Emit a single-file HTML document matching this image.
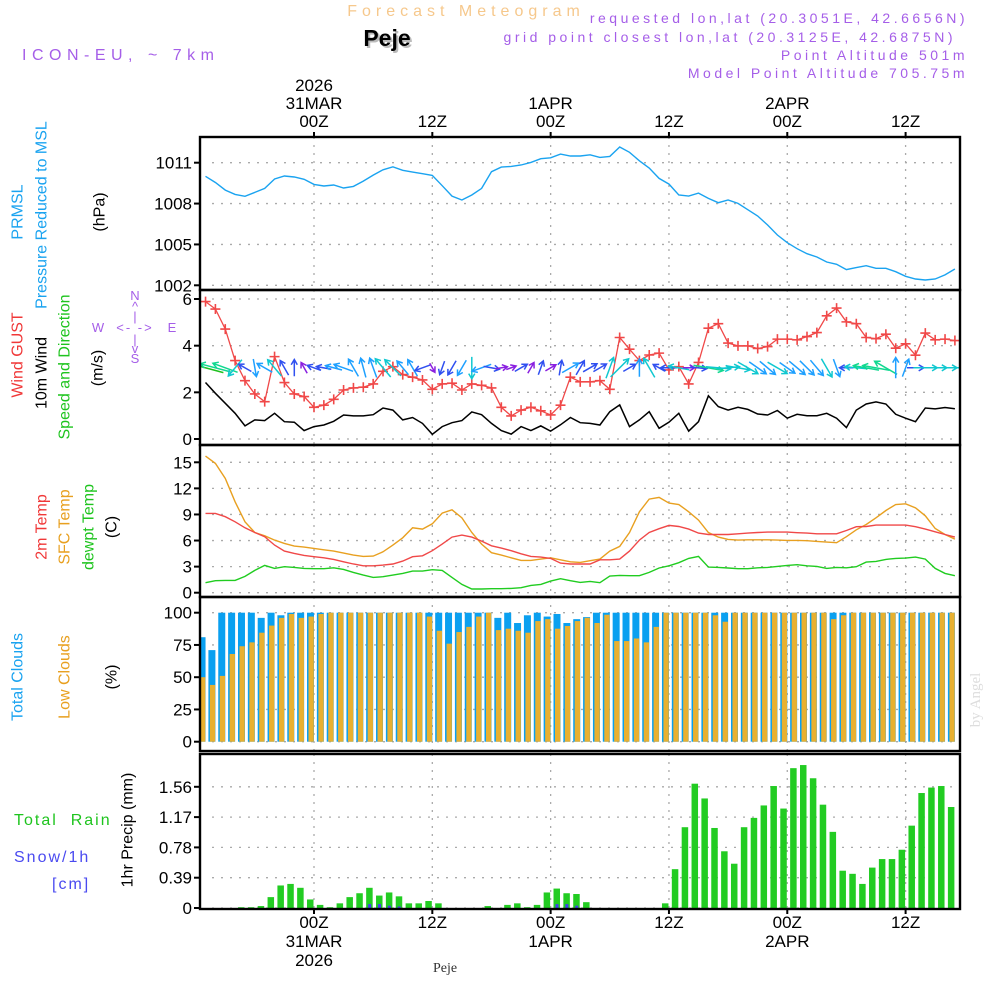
<!DOCTYPE html>
<html><head><meta charset="utf-8"><style>
html,body{margin:0;padding:0;background:#fff;}
svg{display:block;font-family:"Liberation Sans",sans-serif;}
</style></head><body>
<svg id="chart" width="1000" height="1000" viewBox="0 0 1000 1000" xmlns="http://www.w3.org/2000/svg">
<g id="header">
<text x="466" y="16" text-anchor="middle" font-size="16" fill="#f6c88c" letter-spacing="5">Forecast Meteogram</text>
<text x="389" y="48" text-anchor="middle" font-size="23" font-weight="bold" fill="#bbb">Peje</text>
<text x="387" y="46" text-anchor="middle" font-size="23" font-weight="bold" fill="#000">Peje</text>
<text x="22" y="60" font-size="16" fill="#a55ee8" letter-spacing="5.5">ICON-EU, ~ 7km</text>
<g font-size="14" fill="#a55ee8" text-anchor="end" letter-spacing="3.5">
<text x="968" y="23">requested lon,lat (20.3051E, 42.6656N)</text>
<text x="956" y="42">grid point closest lon,lat (20.3125E, 42.6875N)</text>
<text x="968" y="60">Point Altitude 501m</text>
<text x="968" y="78">Model Point Altitude 705.75m</text>
</g>
</g>
<g id="axislabels" font-size="16">
<text transform="rotate(-90 18 212)" x="18" y="212" text-anchor="middle" dominant-baseline="central" fill="#1aa3f0">PRMSL</text>
<text transform="rotate(-90 42 215)" x="42" y="215" text-anchor="middle" dominant-baseline="central" fill="#1aa3f0">Pressure Reduced to MSL</text>
<text transform="rotate(-90 100 212)" x="100" y="212" text-anchor="middle" dominant-baseline="central" fill="#000">(hPa)</text>
<text transform="rotate(-90 18 355)" x="18" y="355" text-anchor="middle" dominant-baseline="central" fill="#f03838">Wind GUST</text>
<text transform="rotate(-90 42 373)" x="42" y="373" text-anchor="middle" dominant-baseline="central" fill="#000">10m Wind</text>
<text transform="rotate(-90 65 367)" x="65" y="367" text-anchor="middle" dominant-baseline="central" fill="#1ec41e">Speed and Direction</text>
<text transform="rotate(-90 98 368)" x="98" y="368" text-anchor="middle" dominant-baseline="central" fill="#000">(m/s)</text>
<text transform="rotate(-90 42 527)" x="42" y="527" text-anchor="middle" dominant-baseline="central" fill="#f03838">2m Temp</text>
<text transform="rotate(-90 65 527)" x="65" y="527" text-anchor="middle" dominant-baseline="central" fill="#e8a020">SFC Temp</text>
<text transform="rotate(-90 89 527)" x="89" y="527" text-anchor="middle" dominant-baseline="central" fill="#1ec41e">dewpt Temp</text>
<text transform="rotate(-90 112 527)" x="112" y="527" text-anchor="middle" dominant-baseline="central" fill="#000">(C)</text>
<text transform="rotate(-90 18 677)" x="18" y="677" text-anchor="middle" dominant-baseline="central" fill="#1aa3f0">Total Clouds</text>
<text transform="rotate(-90 65 677)" x="65" y="677" text-anchor="middle" dominant-baseline="central" fill="#e8a020">Low Clouds</text>
<text transform="rotate(-90 112 677)" x="112" y="677" text-anchor="middle" dominant-baseline="central" fill="#000">(%)</text>
<text x="14" y="825" fill="#1ec41e" letter-spacing="2" xml:space="preserve">Total  Rain</text>
<text x="14" y="862" fill="#4a4af0" letter-spacing="2">Snow/1h</text>
<text x="52" y="889" fill="#4a4af0" letter-spacing="2">[cm]</text>
<text transform="rotate(-90 128 830)" x="128" y="830" text-anchor="middle" dominant-baseline="central" fill="#000">1hr Precip (mm)</text>
<g fill="#a55ee8" font-size="13" text-anchor="middle">
<text x="135" y="300">N</text><text x="135" y="311">^</text><text x="135" y="321">|</text>
<text x="135" y="332" letter-spacing="2" xml:space="preserve">&lt;- -&gt;</text>
<text x="98" y="332">W</text><text x="172" y="332">E</text>
<text x="135" y="344">|</text><text x="135" y="353">v</text><text x="135" y="363">S</text>
</g>
<text transform="rotate(-90 980 700)" x="980" y="700" text-anchor="middle" font-family="Liberation Serif,serif" font-size="15" fill="#ddd">by Angel</text>
<text x="445" y="972" text-anchor="middle" font-family="Liberation Serif,serif" font-size="14" fill="#333">Peje</text>
</g>
<g id="plots"></g>
</svg>
<script>
const hours = [];
for (let h = -11; h <= 65; h++) hours.push(h);
const pressure = [1010.00,1009.55,1008.99,1008.67,1008.53,1008.82,1009.11,1009.80,1010.02,1009.95,
1009.78,1009.41,1009.29,1009.36,1009.14,1009.26,1009.65,1010.09,1010.48,1010.70,
1010.44,1010.31,1010.19,1010.07,1009.31,1008.55,1008.26,1008.63,1009.11,1010.34,
1010.68,1010.73,1010.83,1011.02,1011.29,1011.36,1011.63,1011.49,1011.49,1011.58,
1011.39,1011.46,1012.15,1011.76,1011.14,1010.61,1009.85,1009.43,1008.63,1008.55,
1008.77,1008.38,1008.06,1008.26,1008.01,1007.55,1007.09,1006.43,1005.69,1005.13,
1004.69,1004.32,1004.08,1003.71,1003.54,1003.15,1003.30,1003.44,1003.25,1003.25,
1003.00,1002.66,1002.46,1002.39,1002.46,1002.76,1003.20];
const windGust = [5.89,5.57,4.71,3.36,2.50,1.93,1.60,3.53,2.42,1.93,1.82,
1.36,1.45,1.70,2.10,2.19,2.22,2.36,2.90,3.10,2.76,2.65,2.53,
2.13,2.36,2.39,2.10,2.36,2.30,2.19,1.36,0.99,1.24,1.36,1.21,
1.03,1.45,2.65,2.45,2.45,2.50,2.13,4.35,3.85,3.36,3.60,3.68,2.96,3.10,2.36,3.28,4.75,4.94,4.11,3.99,3.99,3.88,3.96,4.28,4.28,4.25,4.39,4.56,5.28,5.61,5.02,4.94,4.35,4.30,4.49,3.89,4.08,3.59,4.54,4.25,4.28,4.22];
const wind10 = [2.42,1.96,1.53,1.10,0.56,0.82,0.79,1.10,0.74,0.72,0.36,
0.53,0.60,0.76,1.03,0.99,0.99,1.04,1.33,1.24,0.82,0.92,0.67,
0.20,0.53,0.70,0.79,1.16,1.04,0.67,0.36,0.21,0.53,0.36,0.56,
0.34,0.61,0.92,0.70,0.67,0.60,1.17,1.46,0.53,0.82,1.17,0.46,0.72,1.10,0.34,0.74,1.85,1.39,1.24,1.36,1.27,1.07,1.03,1.22,0.89,1.06,1.00,1.00,1.10,0.89,0.49,1.24,1.50,1.59,1.50,1.06,0.89,0.74,1.33,1.29,1.35,1.30];
const windDirTo = [285,285,290,220,300,170,300,320,330,0,330,
290,280,285,290,330,345,340,320,315,320,330,250,
150,200,210,210,180,250,100,80,70,60,30,20,
60,10,60,30,60,60,20,45,60,0,330,300,270,280,90,95,100,95,85,100,120,125,130,120,125,130,135,140,150,160,270,275,280,280,300,0,20,90,90,90,90,90];
const temp2m = [9.12,9.12,8.74,8.16,7.47,6.93,6.44,5.48,4.79,4.52,4.29,4.14,4.02,3.83,3.56,3.30,3.10,3.10,3.18,3.30,
3.64,4.14,4.25,4.83,5.59,6.40,6.63,6.40,5.94,5.40,5.13,4.83,4.48,4.18,4.10,3.95,3.41,3.30,3.30,3.30,
3.79,3.79,3.87,4.79,6.05,6.93,7.36,7.74,7.62,7.32,6.86,6.70,6.70,6.70,6.78,6.86,6.93,6.97,6.97,6.97,
6.90,6.86,6.78,6.78,6.78,7.16,7.59,7.62,7.78,7.78,7.78,7.78,7.59,7.32,7.01,6.70,6.40];
const tempSfc = [15.71,14.87,13.14,10.46,8.16,6.93,6.55,6.05,5.67,5.36,5.25,5.10,4.94,4.79,4.56,4.33,4.18,4.21,4.71,5.48,
6.32,7.47,7.32,7.93,9.16,9.54,8.62,6.93,5.59,4.60,4.33,4.02,3.72,3.72,3.87,4.02,3.79,3.56,3.49,3.68,
3.87,4.79,5.33,6.93,9.31,10.77,10.96,10.31,10.15,9.31,8.35,6.93,6.40,6.13,6.05,6.09,6.09,6.09,6.05,6.02,
6.02,5.98,5.90,5.82,5.75,6.44,7.24,7.85,8.62,9.46,10.15,10.23,9.77,8.85,7.39,6.70,6.17];
const dewpt = [1.15,1.38,1.42,1.42,1.88,2.57,3.14,2.80,2.99,2.91,2.80,2.76,2.76,2.87,2.68,2.34,2.03,1.76,1.84,2.03,
2.22,2.49,2.49,2.64,2.57,1.76,0.96,0.42,0.42,0.46,0.46,0.50,0.57,0.84,0.96,1.34,1.61,1.38,1.19,1.30,
1.15,1.92,1.99,1.95,1.95,2.34,2.84,3.10,3.45,3.95,4.18,2.95,2.91,2.84,2.76,2.76,2.87,2.91,3.03,3.14,
3.22,3.10,3.03,2.80,2.91,2.87,2.99,3.52,3.60,3.83,3.95,3.98,4.10,3.87,2.80,2.22,1.95];
const totalClouds = [81,71,100,100,100,100,96,100,98,100,100,
100,100,100,100,100,100,100,100,100,100,100,100,
100,100,100,100,100,100,100,96,100,92,98,100,
97,99,92,95,96.6,100,100,100,100,100,100,100,100,100,100,100,100,100,100,100,100,100,100,100,100,100,100,100,100,100,100,100,100,100,100,100,100,100,100,100,100,100];
const lowClouds = [50,44,51,68,74,77,84.5,90,96,99,96,
97,99,100,100,100,100,100,100,100,100,100,100,
97,86,76,85,89,97,100,86.5,87.6,86,84.5,93.5,
95,87.6,89.7,93.5,96,92,98.4,78,78,80,77,89,100,100,100,100,100,98,93,100,100,100,100,100,100,100,100,100,100,95,98,100,100,100,100,100,100,100,100,100,100,100];
const precip = [0,0,0,0,0.01,0.01,0.025,0.14,0.29,0.31,0.26,
0.11,0.04,0.01,0.06,0.14,0.19,0.26,0.16,0.20,0.15,0.06,0.06,
0.09,0.06,0,0,0,0,0.025,0,0.04,0.06,0.01,0.04,
0.20,0.25,0.19,0.18,0.075,0,0,0,0,0,0,0,0.06,0.50,1.04,1.60,1.41,1.03,0.73,0.57,1.04,1.16,1.32,1.57,1.28,1.80,1.84,1.67,1.33,0.98,0.48,0.44,0.31,0.52,0.63,0.63,0.75,1.06,1.48,1.55,1.57,1.30];
const snow = [0,0,0,0,0,0,0,0,0,0,0,
0,0,0,0,0,0,0.05,0.05,0.03,0.02,0,0,
0,0,0,0,0,0,0,0,0,0,0,0,
0,0.05,0.05,0.03,0,0,0,0,0,0,0,0,0,0,0,0,0,0,0,0,0,0,0,0,0,0,0,0,0,0,0,0,0,0,0,0,0,0,0,0,0,0];
const pressTicks = [1002,1005,1008,1011];
const windTicks = [0,2,4,6];
const tempTicks = [0,3,6,9,12,15];
const cloudTicks = [0,25,50,75,100];
const precipTicks = [0,0.39,0.78,1.17,1.56];
const gridHours = [0,12,24,36,48,60];
const topDateLabels = [["2026","31MAR","00Z"],["","","12Z"],["","1APR","00Z"],["","","12Z"],["","2APR","00Z"],["","","12Z"]];
const bottomDateLabels = [["00Z","31MAR","2026"],["12Z","",""],["00Z","1APR",""],["12Z","",""],["00Z","2APR",""],["12Z","",""]];

const NS = "http://www.w3.org/2000/svg";
const root = document.getElementById("plots");
const X0 = 200, X1 = 960;
function xh(h){ return 314 + h * 9.86; }
function lin(v0, p0, v1, p1){ return v => p0 + (v - v0) * (p1 - p0) / (v1 - v0); }
const yP = lin(1011, 162.7, 1002, 285.3);
const yW = lin(6, 299, 0, 439);
const yT = lin(15, 462.3, 0, 592.7);
const yC = lin(100, 612.7, 0, 741.7);
const yR = lin(0, 908, 0.39, 877.7);
function mk(tag, attrs, parent){
  const e = document.createElementNS(NS, tag);
  for (const k in attrs) e.setAttribute(k, attrs[k]);
  (parent || root).appendChild(e);
  return e;
}
const defs = mk("defs", {});
function panel(name, top, bottom, ticks, yf, fmt){
  const g = mk("g", {});
  
  
  const cp = mk("clipPath", {id: name + "-clip"}, defs);
  mk("rect", {x: X0, y: top, width: X1 - X0, height: bottom - top}, cp);
  gridHours.forEach(h => {
    const l = mk("line", {x1: xh(h), x2: xh(h), y1: top, y2: bottom, stroke: "#aaa", "stroke-width": 1.3, "stroke-dasharray": "2,6"}, g);
    
    
  });
  ticks.forEach(t => {
    const y = yf(t);
    const l = mk("line", {x1: X0 + 12, x2: X1, y1: y, y2: y, stroke: "#aaa", "stroke-width": 1.3, "stroke-dasharray": "2,7"}, g);
    
    
    mk("line", {x1: X0 - 6, x2: X0, y1: y, y2: y, stroke: "#000", "stroke-width": 2}, g);
    const tx = mk("text", {x: X0 - 8, y: y + 6, "text-anchor": "end", "font-size": 17, fill: "#000"}, g);
    tx.textContent = fmt ? fmt(t) : String(t);
    
    
  });
  const inner = mk("g", {"clip-path": "url(#" + name + "-clip)"}, g);
  const fr = mk("rect", {x: X0, y: top, width: X1 - X0, height: bottom - top, fill: "none", stroke: "#000", "stroke-width": 2.4}, g);
  
  
  return inner;
}
function line(g, data, yf, color, name, w){
  const pts = data.map((v, i) => xh(hours[i]).toFixed(1) + "," + yf(v).toFixed(1)).join(" ");
  const p = mk("polyline", {points: pts, fill: "none", stroke: color, "stroke-width": w || 1.4}, g);
  
  
  return p;
}
const gP = panel("pressure", 137, 290, pressTicks, yP);
line(gP, pressure, yP, "#1aa3f0", "pressure-line");
const gW = panel("wind", 290, 445, windTicks, yW);
line(gW, wind10, yW, "#000", "wind10m-line", 1.5);
line(gW, windGust, yW, "#f04848", "wind-gust-line", 1.3);
windGust.forEach((v, i) => {
  const x = xh(hours[i]), y = yW(v);
  const m = mk("path", {d: `M${x-5},${y}H${x+5}M${x},${y-5}V${y+5}`, stroke: "#f04848", "stroke-width": 1.6}, gW);
  
  
});
function windColor(s){
  if (s >= 2.0) return "#20c020";
  if (s >= 1.5) return "#10d890";
  if (s >= 1.1) return "#10c8d0";
  if (s >= 0.75) return "#1ea0ff";
  if (s >= 0.45) return "#3050f0";
  return "#8a20e0";
}
windDirTo.forEach((d, i) => {
  const s = wind10[i];
  const len = 8 + s * 12;
  const a = d * Math.PI / 180;
  const cx = xh(hours[i]), cy = yW(3.05);
  const dx = Math.sin(a) * len / 2, dy = -Math.cos(a) * len / 2;
  const x1 = cx - dx, y1 = cy - dy, x2 = cx + dx, y2 = cy + dy;
  const h1 = a + Math.PI * 0.83, h2 = a - Math.PI * 0.83;
  const hl = 6;
  const col = windColor(s);
  const p = mk("path", {d: `M${x1.toFixed(1)},${y1.toFixed(1)}L${x2.toFixed(1)},${y2.toFixed(1)}M${(x2+Math.sin(h1)*hl).toFixed(1)},${(y2-Math.cos(h1)*hl).toFixed(1)}L${x2.toFixed(1)},${y2.toFixed(1)}L${(x2+Math.sin(h2)*hl).toFixed(1)},${(y2-Math.cos(h2)*hl).toFixed(1)}`, stroke: col, "stroke-width": 1.5, fill: "none"}, gW);
  
  
});
const gT = panel("temperature", 445, 597, tempTicks, yT);
line(gT, tempSfc, yT, "#e8a020", "sfc-temp-line");
line(gT, temp2m, yT, "#f04848", "temp2m-line");
line(gT, dewpt, yT, "#20cc20", "dewpoint-line");
const gC = panel("clouds", 597, 751, cloudTicks, yC);
totalClouds.forEach((v, i) => {
  const x = xh(hours[i]);
  const r = mk("rect", {x: x - 7, y: yC(v), width: 7, height: yC(0) - yC(v), fill: "#0aa0f0"}, gC);
  
  
  const lv = lowClouds[i];
  const r2 = mk("rect", {x: x - 5.5, y: yC(lv), width: 5.3, height: yC(0) - yC(lv), fill: "#e8b030"}, gC);
  
  
});
const gR = panel("precip", 754, 909, precipTicks, yR, t => t === 0 ? "0" : t.toFixed(2));
precip.forEach((v, i) => {
  if (v <= 0) return;
  const x = xh(hours[i]);
  const r = mk("rect", {x: x - 7, y: yR(v), width: 6.5, height: yR(0) - yR(v), fill: "#22cc22"}, gR);
  
  
});
snow.forEach((v, i) => {
  if (v <= 0) return;
  const x = xh(hours[i]);
  const r = mk("rect", {x: x - 5, y: yR(v), width: 3, height: yR(0) - yR(v), fill: "#4040f0"}, gR);
  
  
});
gridHours.forEach((h, k) => {
  const x = xh(h);
  [86, 104, 122].forEach((y, j) => {
    const s = topDateLabels[k][j];
    if (!s) return;
    const t = mk("text", {x: x, y: y + 5, "text-anchor": "middle", "font-size": 17, fill: "#000"});
    t.textContent = s;
    
    
  });
  [922, 941, 960].forEach((y, j) => {
    const s = bottomDateLabels[k][j];
    if (!s) return;
    const t = mk("text", {x: x, y: y + 6, "text-anchor": "middle", "font-size": 17, fill: "#000"});
    t.textContent = s;
    
    
  });
  mk("line", {x1: x, x2: x, y1: 909, y2: 914, stroke: "#000", "stroke-width": 2});
  mk("line", {x1: x, x2: x, y1: 132, y2: 137, stroke: "#000", "stroke-width": 2});
});
</script>
</body></html>
